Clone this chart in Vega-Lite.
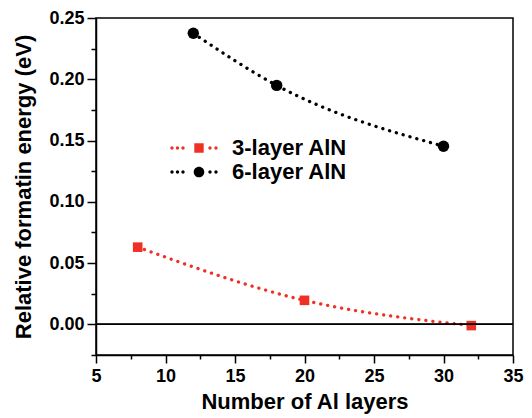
{
  "$schema": "https://vega.github.io/schema/vega-lite/v6.json",
  "width": 417,
  "height": 337,
  "autosize": {"type": "none"},
  "padding": {"left": 96, "top": 18, "right": 19, "bottom": 63},
  "background": "white",
  "config": {
    "view": {"stroke": "#000", "strokeWidth": 1.5},
    "font": "Liberation Sans",
    "axis": {
      "domainColor": "#000", "domainWidth": 1.5, "tickColor": "#000", "tickWidth": 1.5,
      "grid": false, "labelFont": "Liberation Sans", "labelFontSize": 18, "labelFontWeight": "bold",
      "labelColor": "#000", "titleFont": "Liberation Sans", "titleFontSize": 22, "titleFontWeight": "bold",
      "titleColor": "#000", "labelOverlap": false, "labelFlush": false, "labelBound": false
    },
    "legend": {
      "orient": "none", "legendX": 92, "legendY": 119, "padding": 0,
      "symbolSize": 400, "labelOffset": 22, "rowPadding": 2, "symbolOpacity": 1, "symbolStrokeWidth": 0,
      "labelFont": "Liberation Sans", "labelFontSize": 22, "labelFontWeight": "bold", "labelColor": "#000"
    }
  },
  "resolve": {
    "scale": {"shape": "independent", "size": "independent"},
    "legend": {"color": "independent", "shape": "independent", "size": "independent"}
  },
  "data": {
    "values": [
      {"series": "3-layer AlN", "layers": 8, "energy": 0.063},
      {"series": "3-layer AlN", "layers": 20, "energy": 0.0196},
      {"series": "3-layer AlN", "layers": 32, "energy": -0.001},
      {"series": "6-layer AlN", "layers": 12, "energy": 0.2375},
      {"series": "6-layer AlN", "layers": 18, "energy": 0.195},
      {"series": "6-layer AlN", "layers": 30, "energy": 0.1454}
    ]
  },
  "encoding": {
    "x": {
      "field": "layers", "type": "quantitative", "title": "Number of Al layers",
      "scale": {"domain": [5, 35], "nice": false, "zero": false},
      "axis": {
        "values": [5, 7.5, 10, 12.5, 15, 17.5, 20, 22.5, 25, 27.5, 30, 32.5, 35],
        "labelExpr": "datum.value % 5 == 0 ? format(datum.value, 'd') : ''",
        "tickSize": {"condition": {"test": "datum.value % 5 != 0", "value": 4}, "value": 8},
        "labelPadding": 4, "titlePadding": 6
      }
    },
    "y": {
      "field": "energy", "type": "quantitative", "title": "Relative formatin energy (eV)",
      "scale": {"domain": [-0.025, 0.25], "nice": false, "zero": false},
      "axis": {
        "values": [-0.025, 0, 0.025, 0.05, 0.075, 0.1, 0.125, 0.15, 0.175, 0.2, 0.225, 0.25],
        "labelExpr": "abs(datum.value * 20 - round(datum.value * 20)) < 0.1 ? format(datum.value, '.2f') : ''",
        "tickSize": {"condition": {"test": "abs(datum.value * 20 - round(datum.value * 20)) > 0.1", "value": 5}, "value": 9},
        "labelPadding": 3, "titlePadding": 13
      }
    }
  },
  "layer": [
    {
      "mark": {"type": "line", "interpolate": "monotone", "strokeDash": [0.1, 7], "strokeCap": "round", "strokeWidth": 3.3},
      "encoding": {
        "color": {
          "field": "series", "type": "nominal",
          "scale": {"domain": ["3-layer AlN", "6-layer AlN"], "range": ["#ee3124", "#000000"]},
          "legend": null
        },
        "order": {"field": "layers"}
      }
    },
    {
      "mark": {"type": "point", "filled": true, "opacity": 1},
      "encoding": {
        "color": {
          "field": "series", "type": "nominal",
          "scale": {"domain": ["3-layer AlN", "6-layer AlN"], "range": ["#ee3124", "#000000"]},
          "legend": null
        },
        "shape": {
          "field": "series", "type": "nominal",
          "scale": {"domain": ["3-layer AlN", "6-layer AlN"], "range": ["square", "circle"]},
          "legend": null
        },
        "size": {
          "field": "series", "type": "nominal",
          "scale": {"domain": ["3-layer AlN", "6-layer AlN"], "range": [92, 130]},
          "legend": null
        }
      }
    },
    {
      "mark": {"type": "point", "filled": true, "opacity": 0, "size": 400},
      "encoding": {
        "color": {
          "field": "series", "type": "nominal",
          "scale": {"domain": ["3-layer AlN", "6-layer AlN"], "range": ["#ee3124", "#000000"]},
          "legend": {"title": null}
        },
        "shape": {
          "field": "series", "type": "nominal",
          "scale": {
            "domain": ["3-layer AlN", "6-layer AlN"],
            "range": [
              "M-2.865,0a0.165,0.165 0 1,0 0.33,0a0.165,0.165 0 1,0 -0.33,0ZM-2.315,0a0.165,0.165 0 1,0 0.33,0a0.165,0.165 0 1,0 -0.33,0ZM-1.765,0a0.165,0.165 0 1,0 0.33,0a0.165,0.165 0 1,0 -0.33,0ZM0.935,0a0.165,0.165 0 1,0 0.33,0a0.165,0.165 0 1,0 -0.33,0ZM1.535,0a0.165,0.165 0 1,0 0.33,0a0.165,0.165 0 1,0 -0.33,0ZM-0.47,-0.47L0.47,-0.47L0.47,0.47L-0.47,0.47Z",
              "M-2.865,0a0.165,0.165 0 1,0 0.33,0a0.165,0.165 0 1,0 -0.33,0ZM-2.315,0a0.165,0.165 0 1,0 0.33,0a0.165,0.165 0 1,0 -0.33,0ZM-1.765,0a0.165,0.165 0 1,0 0.33,0a0.165,0.165 0 1,0 -0.33,0ZM0.935,0a0.165,0.165 0 1,0 0.33,0a0.165,0.165 0 1,0 -0.33,0ZM1.535,0a0.165,0.165 0 1,0 0.33,0a0.165,0.165 0 1,0 -0.33,0ZM-0.53,0a0.53,0.53 0 1,0 1.06,0a0.53,0.53 0 1,0 -1.06,0Z"
            ]
          },
          "legend": {"title": null}
        }
      }
    },
    {
      "mark": {"type": "rule", "color": "#000", "strokeWidth": 1.2},
      "encoding": {
        "x": {"value": 0},
        "x2": {"value": 417},
        "y": {"datum": 0, "type": "quantitative"}
      }
    }
  ]
}
